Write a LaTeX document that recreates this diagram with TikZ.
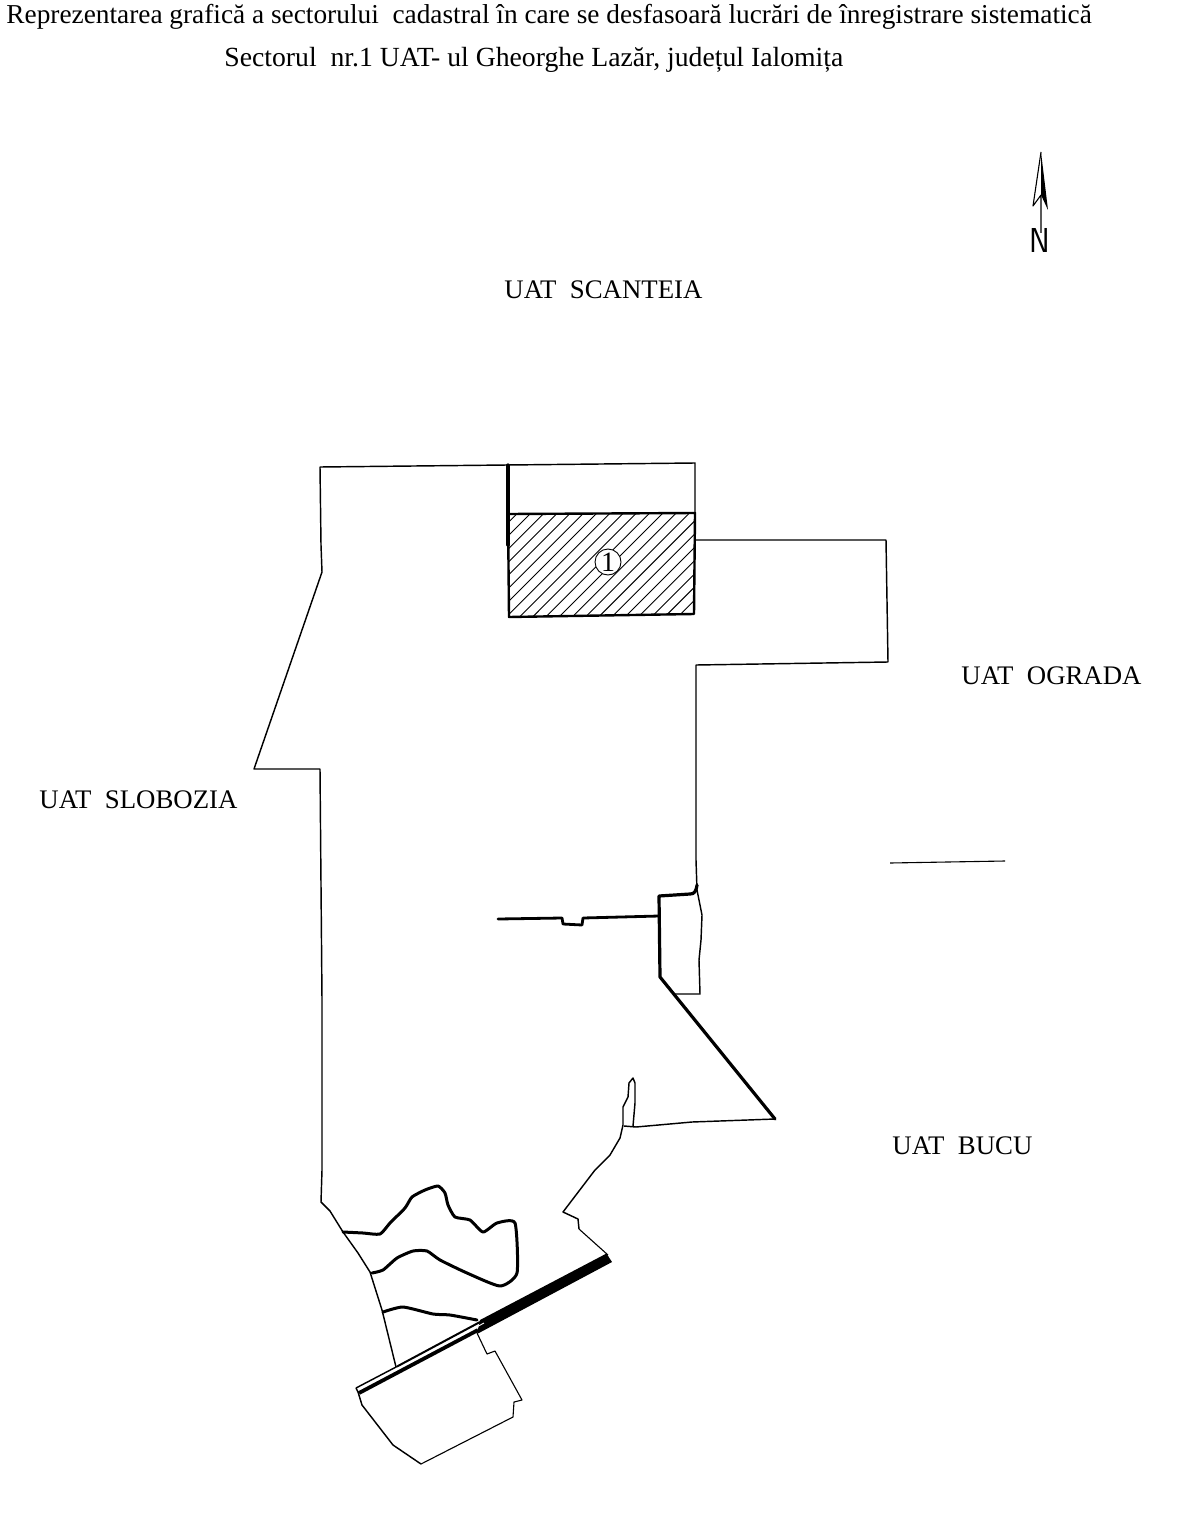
\documentclass[tikz,border=0pt]{standalone}
\usepackage{fontspec}
\setmainfont{Liberation Serif}
\begin{document}
\begin{tikzpicture}[x=0.5pt,y=-0.5pt,
  thinline/.style={draw=black,line width=0.72pt,line join=round},
  hairline/.style={draw=black,line width=0.55pt,line join=round},
  thickline/.style={draw=black,line width=1.6pt,line join=round,line cap=round},
  riverline/.style={draw=black,line width=1.5pt,line join=round,line cap=round},
  hatchline/.style={draw=black,line width=0.45pt},
  titletext/.style={anchor=base west,inner sep=0pt,font=\fontsize{13.66pt}{15pt}\selectfont},
  uatlabel/.style={anchor=base west,inner sep=0pt,font=\fontsize{13.4pt}{15pt}\selectfont}]
\useasboundingbox (0,0) rectangle (1182,1514);
\fill[white] (0,0) rectangle (1182,1514);
% titles
\node[titletext] (title1) at (6,24) {Reprezentarea grafică a sectorului\ \ cadastral în care se desfasoară lucrări de înregistrare sistematică};
\node[titletext,font=\fontsize{13.85pt}{15pt}\selectfont] (title2) at (224,67) {Sectorul\ \ nr.1 UAT- ul Gheorghe Lazăr, județul Ialomița};
% labels
\node[uatlabel] (scanteia) at (504,299) {UAT\ \ SCANTEIA};
\node[uatlabel] (ograda) at (961,684) {UAT\ \ OGRADA};
\node[uatlabel] (slobozia) at (39,808) {UAT\ \ SLOBOZIA};
\node[uatlabel] (bucu) at (892,1154) {UAT\ \ BUCU};
% north arrow
\fill[black] (1041,152) -- (1048,210) -- (1041,195) -- cycle;
\draw[hairline] (1041,152) -- (1033,206) -- (1041,195) -- (1041,233);
\node[anchor=base,inner sep=0pt,font=\sffamily\fontsize{17.3pt}{18pt}\selectfont,xscale=0.9] (north) at (1040,253) {N};
% hatched sector
\begin{scope}
\clip (508,514) -- (695,513) -- (694,614) -- (509,617) -- cycle;
\foreach \k in {-2,...,22} {
  \draw[hatchline] ({1044+\k*13.2-625},625) -- ({1044+\k*13.2-500},500);
}
\end{scope}
\draw[line width=1.2pt,line join=round] (508,514) -- (695,513) -- (694,614) -- (509,617) -- cycle;
\node[circle,draw=black,fill=white,line width=0.45pt,minimum size=13pt,inner sep=0pt,font=\fontsize{14pt}{15pt}\selectfont] (sector) at (608,562) {1};
% main outline, thin
\draw[thinline] (507,465) -- (320,467) -- (321,545) -- (322,572) -- (254,769) -- (320,769) -- (322,1000) -- (322,1170) -- (321,1202) -- (330,1211) -- (343,1232) -- (358,1253) -- (370,1272) -- (382,1310) -- (396,1367);
\draw[thinline] (507,465) -- (695,463) -- (695,513);
\draw[thinline] (696,540) -- (886,540) -- (888,662) -- (696,665) -- (696,860) -- (697,890) -- (700,905) -- (702,915) -- (701,940) -- (699,960) -- (700,994) -- (674,994);
\draw[thinline] (775,1119) -- (692,1122) -- (636,1127) -- (624,1126);
\draw[thinline] (633,1126) -- (635,1103) -- (635,1083) -- (633,1078) -- (629,1083) -- (628,1097) -- (623,1107) -- (623,1125) -- (620,1138) -- (610,1155) -- (595,1170) -- (563,1212) -- (578,1219) -- (579,1229);
\draw[hairline] (579,1229) -- (608,1255);
% thick boundary
\draw[thickline] (508,465) -- (508,545);
\draw[thickline] (697,885) .. controls (696,892) and (694,894) .. (690,894) -- (659,896) -- (660,977) -- (775,1119);
\draw[thickline,line width=1.4pt] (498,919) -- (562,918) -- (563,924) -- (582,925) -- (583,918) -- (659,916);
% rivers
\draw[riverline] plot[smooth,tension=0.35] coordinates {(343,1232) (363,1233) (380,1234) (390,1223) (405,1208) (412,1197) (425,1190) (438,1186) (445,1193) (448,1205) (455,1217) (470,1220) (483,1232) (497,1223) (515,1223) (517,1273) (500,1286) (467,1273) (440,1260) (427,1251) (413,1251) (397,1258) (383,1270) (372,1273)};
\draw[riverline] plot[smooth,tension=0.35] coordinates {(383,1312) (403,1307) (433,1314) (450,1315) (477,1320)};
% railway bar
\fill[black] (606.5,1253.5) -- (612,1262) -- (477,1334) -- (480,1320) -- cycle;
\draw[white,line width=0.45pt] (400,1368) -- (484,1323);
\draw[line width=1.9pt] (359,1393) -- (478,1330);
\draw[line width=1pt] (397,1366.5) -- (480,1322);
\draw[thinline] (356,1388) -- (397,1366.5);
\draw[thinline] (356,1388) -- (358,1392);
% lower parcel
\draw[thinline] (358,1392) -- (362,1405) -- (393,1445) -- (421,1464);
\draw[hairline] (421,1464) -- (513,1417) -- (514,1402) -- (522,1400) -- (495,1351) -- (487,1354) -- (477,1333);
% detached line
\draw[hairline] (890,863) -- (1005,861);
\end{tikzpicture}
\end{document}
